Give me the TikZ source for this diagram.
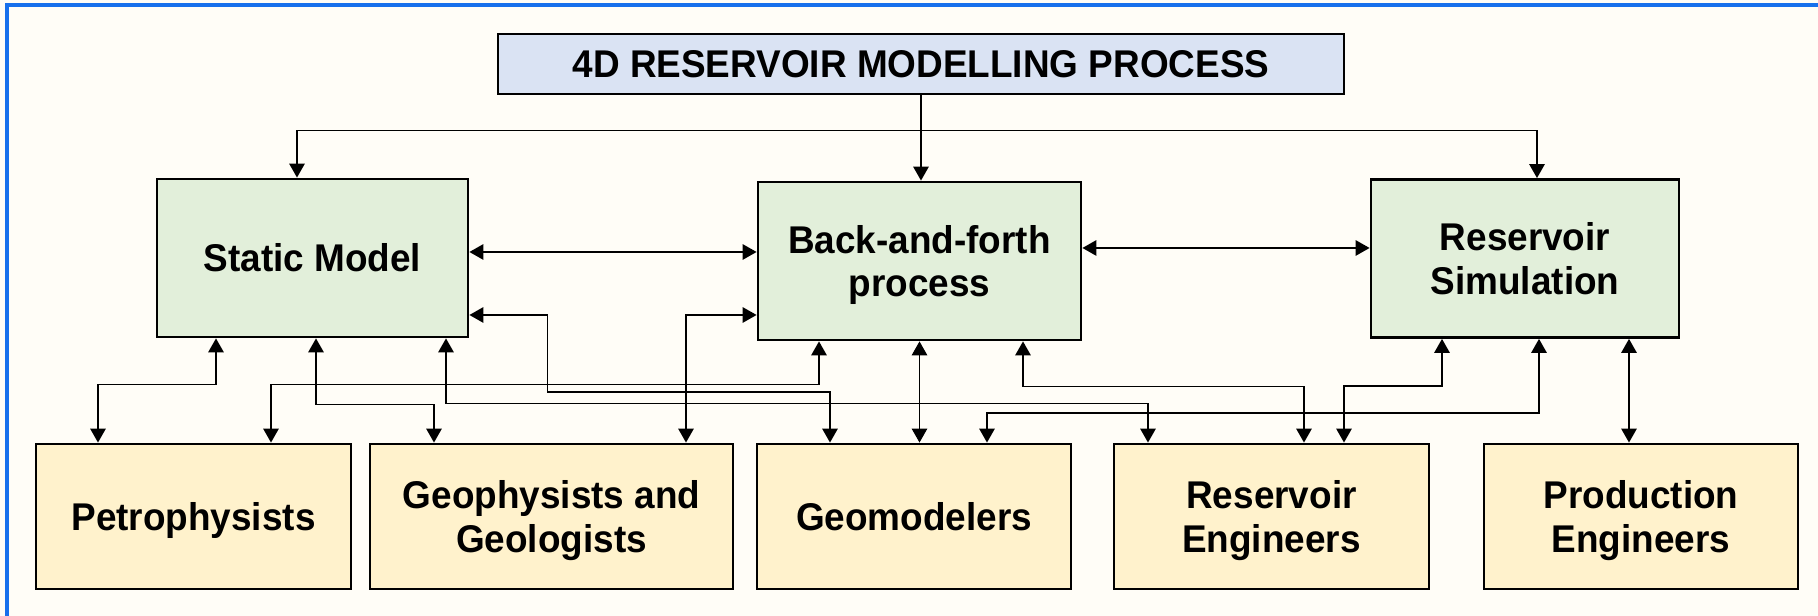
\documentclass[tikz,border=0pt]{standalone}
\usepackage{fontspec}
\setmainfont{Liberation Sans}[FakeStretch=0.955]
\usetikzlibrary{arrows.meta}

\definecolor{paper}{RGB}{255,253,247}
\definecolor{frameblue}{RGB}{24,112,236}
\definecolor{titlefill}{RGB}{218,227,243}
\definecolor{modelfill}{RGB}{226,239,218}
\definecolor{teamfill}{RGB}{255,242,204}

\begin{document}
\begin{tikzpicture}[font=\bfseries\fontsize{11}{12.5}\selectfont]
  \tikzset{
    box/.style={draw, line width=0.8pt, inner sep=0pt, text depth=0pt, align=center},
    title box/.style={box, fill=titlefill, minimum width=8.46cm, minimum height=0.60cm},
    model box/.style={box, fill=modelfill, minimum height=1.58cm},
    team box/.style={box, fill=teamfill, minimum height=1.45cm},
    link/.style={line width=0.5pt, >={Triangle[length=4pt,width=4.4pt]}}
  }

  % Page and frame
  \useasboundingbox (0,0) rectangle (18.18,6.16);
  \fill[paper] (0,0) rectangle (18.18,6.16);
  \draw[frameblue, line width=0.9pt] (0.07,0) -- (0.07,6.11) -- (18.18,6.11);

  % Boxes
  \node[title box] (title) at (9.21,5.52) {4D RESERVOIR MODELLING PROCESS};

  \node[model box, minimum width=3.11cm] (static) at (3.125,3.58) {Static Model};
  \node[model box, minimum width=3.23cm] (bf) at (9.195,3.55) {Back-and-forth\\process};
  \node[model box, minimum width=3.08cm] (rs) at (15.25,3.575) {Reservoir\\Simulation};

  \node[team box, minimum width=3.15cm] (petro) at (1.935,0.995) {Petrophysists};
  \node[team box, minimum width=3.63cm] (geo) at (5.515,0.995) {Geophysists and\\Geologists};
  \node[team box, minimum width=3.14cm] (gm) at (9.14,0.995) {Geomodelers};
  \node[team box, minimum width=3.15cm] (re) at (12.715,0.995) {Reservoir\\Engineers};
  \node[team box, minimum width=3.14cm] (pe) at (16.41,0.995) {Production\\Engineers};

  % Process to models
  \coordinate (split) at ([yshift=-0.35cm]title.south);
  \draw[link,->] (title.south) -- (title.south |- bf.north);
  \draw[link,->] (split) -| ([xshift=-0.155cm]static.north);
  \draw[link,->] (split) -| ([xshift=0.12cm]rs.north);

  % Between the models
  \draw[link,<->] ([yshift=0.06cm]static.east) -- ([yshift=0.06cm]static.east -| bf.west);
  \draw[link,<->] ([yshift=0.13cm]bf.east) -- ([yshift=0.13cm]bf.east -| rs.west);

  % Models and teams
  \draw[link,<->] ([xshift=-0.965cm]static.south) -- ++(0,-0.46) -| ([xshift=-0.955cm]petro.north);
  \draw[link,<->] ([xshift=-1.005cm]bf.south) -- ++(0,-0.43) -| ([xshift=0.775cm]petro.north);
  \draw[link,<->] ([xshift=0.035cm]static.south) -- ++(0,-0.66) -| ([xshift=-1.175cm]geo.north);
  \draw[link,<->] ([xshift=1.335cm]static.south) -- ++(0,-0.65) -| ([xshift=-1.235cm]re.north);
  \draw[link,<->] ([yshift=-0.57cm]static.east) -- ++(0.78,0) -- ++(0,-0.77) -| ([xshift=-0.84cm]gm.north);
  \draw[link,<->] ([yshift=-0.54cm]bf.west) -| ([xshift=1.345cm]geo.north);
  \draw[link,<->] (bf.south) -- (bf.south |- gm.north);
  \draw[link,<->] ([xshift=1.035cm]bf.south) -- ++(0,-0.45) -| ([xshift=0.325cm]re.north);
  \draw[link,<->] ([xshift=0.14cm]rs.south) -- ++(0,-0.74) -| ([xshift=0.73cm]gm.north);
  \draw[link,<->] ([xshift=-0.83cm]rs.south) -- ++(0,-0.47) -| ([xshift=0.725cm]re.north);
  \draw[link,<->] ([xshift=1.04cm]rs.south) -- ([xshift=1.04cm]rs.south |- pe.north);
\end{tikzpicture}
\end{document}
